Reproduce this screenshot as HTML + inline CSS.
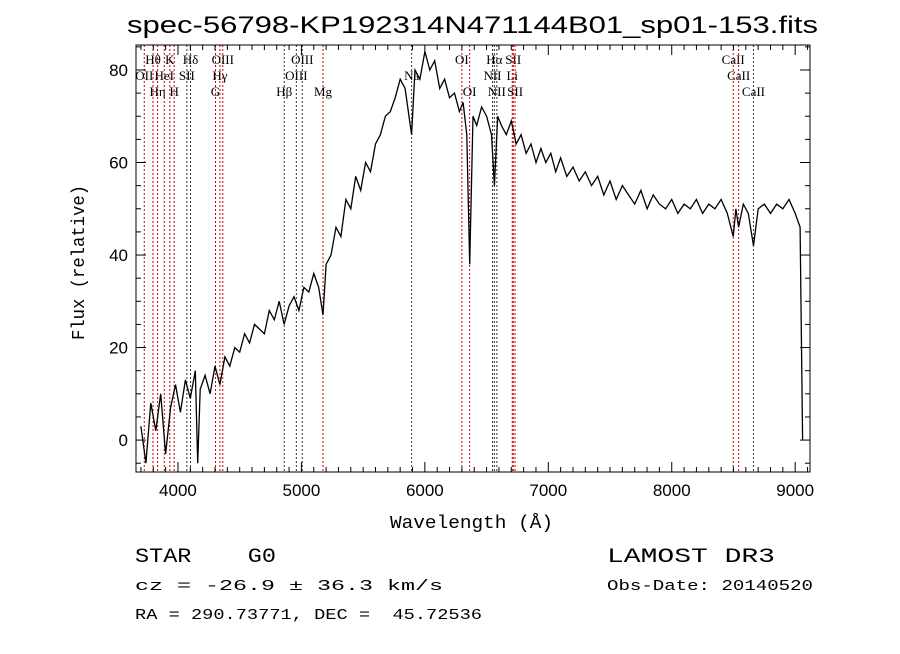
<!DOCTYPE html>
<html><head><meta charset="utf-8"><style>
body{margin:0;background:#fff;}
svg text{font-family:"Liberation Sans",sans-serif;}
.s{font-family:"Liberation Serif",serif;font-size:13px;}
.m{font-family:"Liberation Mono",monospace;}
</style></head><body>
<svg id="c" width="900" height="649">
<text x="127" y="33" font-size="24" textLength="691" lengthAdjust="spacingAndGlyphs">spec-56798-KP192314N471144B01_sp01-153.fits</text>
<text x="390" y="528" font-size="18" class="m" textLength="163" lengthAdjust="spacingAndGlyphs">Wavelength (Å)</text>
<text x="84" y="340" font-size="18" class="m" textLength="155" lengthAdjust="spacingAndGlyphs" transform="rotate(-90 84 340)">Flux (relative)</text>
<text x="135" y="562" font-size="20" class="m" textLength="141" lengthAdjust="spacingAndGlyphs" xml:space="preserve">STAR    G0</text>
<text x="607" y="562" font-size="20" class="m" textLength="168" lengthAdjust="spacingAndGlyphs">LAMOST DR3</text>
<text x="135" y="590" font-size="15" class="m" textLength="308" lengthAdjust="spacingAndGlyphs">cz = -26.9 ± 36.3 km/s</text>
<text x="607" y="590" font-size="15" class="m" textLength="206" lengthAdjust="spacingAndGlyphs">Obs-Date: 20140520</text>
<text x="135" y="619" font-size="15" class="m" textLength="347" lengthAdjust="spacingAndGlyphs" xml:space="preserve">RA = 290.73771, DEC =  45.72536</text>
<g id="g"></g>
</svg>
<script>
const wl=[3700,3740,3780,3820,3860,3900,3940,3980,4020,4060,4100,4140,4160,4180,4220,4260,4300,4340,4380,4420,4460,4500,4540,4580,4620,4660,4700,4740,4780,4820,4860,4900,4940,4980,5020,5060,5100,5140,5175,5200,5240,5280,5320,5360,5400,5440,5480,5520,5560,5600,5640,5680,5720,5760,5800,5840,5893,5920,5960,6000,6040,6080,6120,6160,6200,6240,6280,6310,6340,6363,6390,6420,6460,6500,6540,6563,6590,6620,6660,6700,6740,6780,6820,6860,6900,6940,6980,7020,7060,7100,7150,7200,7250,7300,7350,7400,7450,7500,7550,7600,7650,7700,7750,7800,7850,7900,7950,8000,8050,8100,8150,8200,8250,8300,8350,8400,8450,8498,8520,8542,8580,8620,8662,8700,8750,8800,8850,8900,8950,9000,9040,9060];
const flux=[3,-5,8,2,10,-3,7,12,6,13,9,15,-5,11,14,10,16,12,18,16,20,19,23,21,25,24,23,28,26,30,25,29,31,28,33,32,36,33,27,38,40,46,44,52,50,57,54,60,58,64,66,70,71,74,78,76,66,80,78,84,80,82,76,78,74,75,71,73,66,38,70,68,72,70,66,55,70,68,66,69,64,66,62,64,60,63,60,62,58,61,57,59,56,58,55,57,53,56,52,55,53,51,54,50,53,51,50,52,49,51,50,52,49,51,50,52,49,44,50,46,51,49,42,50,51,49,51,50,52,49,46,0];
const tickX=[4000,5000,6000,7000,8000,9000];
const tickY=[0,20,40,60,80];
const lineW=[3727,3798,3835,3889,3934,3969,4072,4102,4304,4340,4363,4861,4959,5007,5175,5893,6300,6363,6548,6563,6583,6708,6716,6731,8498,8542,8662];
const lineLab=["OII","Hθ","Hη","HeI","K","H","SII","Hδ","G","Hγ","OIII","Hβ","OIII","OIII","Mg","Na","OI","OI","NII","Hα","NII","Li","SII","SII","CaII","CaII","CaII"];
const lineRow=[1,0,2,1,0,2,1,0,2,1,0,2,1,0,2,1,0,2,1,0,2,1,0,2,0,1,2];
const lineRed=[1,1,1,1,1,1,0,0,1,1,1,0,0,0,1,0,1,1,0,0,0,1,1,1,1,1,0];
const X0=3660,X1=9120,Y0=-6.9,Y1=85.4,L=136,R=810,T=45,B=472;
const sx=w=>L+(w-X0)/(X1-X0)*(R-L), sy=f=>B-(f-Y0)/(Y1-Y0)*(B-T);
const g=document.getElementById('g'),NS='http://www.w3.org/2000/svg';
function mk(t,a){const e=document.createElementNS(NS,t);for(const k in a)e.setAttribute(k,a[k]);g.appendChild(e);return e;}
lineW.forEach((w,i)=>{
 const l=mk('line',{x1:sx(w),x2:sx(w),y1:T,y2:B,stroke:lineRed[i]?'#c00':'#333','stroke-width':1,'stroke-dasharray':'2,2'});
 
 
 const t=mk('text',{x:sx(w),y:64+lineRow[i]*16,'text-anchor':'middle',class:'s'});t.textContent=lineLab[i];
 
 
});
let d='';wl.forEach((w,i)=>{d+=(i?'L':'M')+sx(w).toFixed(1)+','+sy(flux[i]).toFixed(1);});
const p=mk('path',{d:d,fill:'none',stroke:'#000','stroke-width':1.3});


const fr=mk('rect',{x:L,y:T,width:R-L,height:B-T,fill:'none',stroke:'#000'});


for(let w=3700;w<=9100;w+=100){const big=w%1000==0;mk('line',{x1:sx(w),x2:sx(w),y1:B,y2:B-(big?10:5),stroke:'#000'});mk('line',{x1:sx(w),x2:sx(w),y1:T,y2:T+(big?10:5),stroke:'#000'});}
tickX.forEach(w=>{const t=mk('text',{x:sx(w),y:B+24,'font-size':17,'text-anchor':'middle'});t.textContent=w;
 
 });
for(let f=-5;f<=85;f+=5){const big=f%20==0;mk('line',{x1:L,x2:L+(big?10:5),y1:sy(f),y2:sy(f),stroke:'#000'});mk('line',{x1:R,x2:R-(big?10:5),y1:sy(f),y2:sy(f),stroke:'#000'});}
tickY.forEach(f=>{const t=mk('text',{x:L-8,y:sy(f)+6,'font-size':17,'text-anchor':'end'});t.textContent=f;
 
 });
</script>
</body></html>
